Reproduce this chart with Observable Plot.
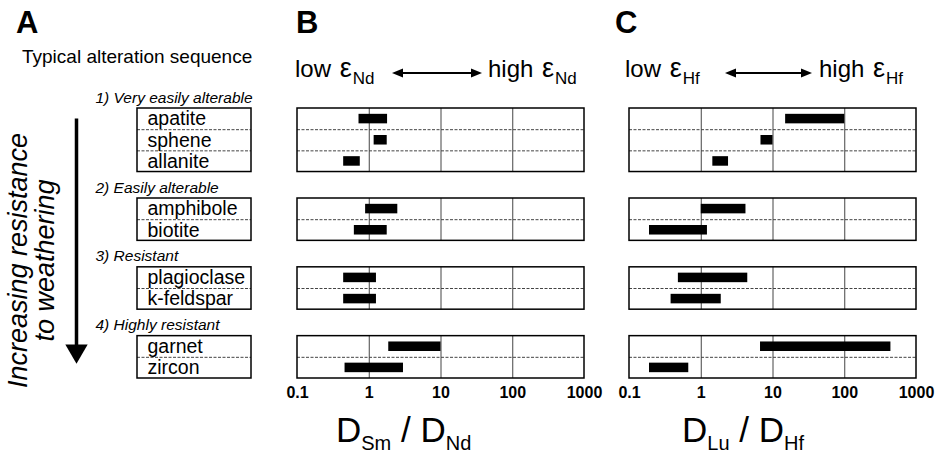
<!DOCTYPE html>
<html><head><meta charset="utf-8">
<script src="https://cdn.jsdelivr.net/npm/d3@7"></script>
<script src="https://cdn.jsdelivr.net/npm/@observablehq/plot@0.6"></script>
<style>
body{margin:0;background:#fff;font-family:"Liberation Sans",Arial,sans-serif;}
#wrap{position:relative;width:935px;height:453px;overflow:hidden;background:#fff}
.t{position:absolute;white-space:nowrap;color:#000;line-height:1}
#wrap > svg{position:absolute;top:0}
.sub{position:relative}
.eps{font-size:27px;margin-left:2px;margin-right:1px}
</style></head><body><div id="wrap"></div>
<script>
// ---- data ----
const groups = ["1) Very easily alterable", "2) Easily alterable", "3) Resistant", "4) Highly resistant"];
const minerals = ["apatite", "sphene", "allanite", "amphibole", "biotite", "plagioclase", "k-feldspar", "garnet", "zircon"];
const mineralGroup = [0, 0, 0, 1, 1, 2, 2, 3, 3];
const smNdLow  = [0.72, 1.17, 0.44, 0.89, 0.62, 0.44, 0.44, 1.87, 0.46];
const smNdHigh = [1.8, 1.78, 0.75, 2.5, 1.78, 1.26, 1.26, 10, 3.0];
const luHfLow  = [15, 6.8, 1.45, 1.0, 0.19, 0.48, 0.38, 6.7, 0.19];
const luHfHigh = [100, 10, 2.4, 4.2, 1.22, 4.45, 1.9, 440, 0.67];
const xTicks = [0.1, 1, 10, 100, 1000];
const xTickLabels = ["0.1", "1", "10", "100", "1000"];
const sideLabel = "Increasing resistance\nto weathering";

// ---- layout derived from group structure ----
const GAP = 1.25;
let pos = 0;
const rowY = [];
const boxes = [];
groups.forEach((g, gi) => {
  const idx = minerals.map((m, i) => i).filter(i => mineralGroup[i] === gi);
  const top = pos;
  idx.forEach(i => { rowY[i] = pos + 0.5; pos += 1; });
  boxes.push({group: g, top, bottom: pos, n: idx.length});
  pos += GAP;
});
const yMax = pos - GAP;
const seps = boxes.flatMap(b => d3.range(1, b.n).map(k => ({y: b.top + k})));
const font = "Liberation Sans, Arial, sans-serif";
const wrap = document.getElementById("wrap");

function place(el, left) { el.style.left = left + "px"; wrap.appendChild(el); }

function panel(lo, hi, width, ml, mr, left) {
  const data = minerals.map((m, i) => ({m, lo: lo[i], hi: hi[i], y: rowY[i]}));
  const grid = boxes.flatMap(b => xTicks.slice(1, -1).map(t => ({x: t, y1: b.top, y2: b.bottom})));
  const p = Plot.plot({
    width, height: 453, marginLeft: ml, marginRight: mr, marginTop: 108, marginBottom: 75,
    style: {background: "transparent", overflow: "visible", fontFamily: font},
    x: {type: "log", domain: [xTicks[0], xTicks[xTicks.length - 1]]},
    y: {domain: [0, yMax], reverse: true, axis: null},
    marks: [
      Plot.ruleY(seps, {y: "y", stroke: "#444", strokeWidth: 1, strokeDasharray: "3,1.5"}),
      Plot.ruleX(grid, {x: "x", y1: "y1", y2: "y2", stroke: "#444", strokeWidth: 1}),
      Plot.rect(data, {x1: "lo", x2: "hi", y1: d => d.y - 0.225, y2: d => d.y + 0.225, fill: "#000"}),
      Plot.rect(boxes, {x1: xTicks[0], x2: xTicks[xTicks.length - 1], y1: "top", y2: "bottom", stroke: "#000", strokeWidth: 1.5, fill: "none"}),
      Plot.axisX(xTicks, {tickSize: 0, tickPadding: 8, tickFormat: d => xTickLabels[xTicks.indexOf(d)], fontSize: 16, fontWeight: "bold", fill: "#000", label: null})
    ]
  });
  place(p, left);
}

// left panel
{
  const data = minerals.map((m, i) => ({m, y: rowY[i]}));
  const last = minerals.length - 1;
  const p = Plot.plot({
    width: 280, height: 453, marginLeft: 137, marginRight: 29, marginTop: 108, marginBottom: 75,
    style: {background: "transparent", overflow: "visible", fontFamily: font},
    x: {domain: [0, 1], axis: null},
    y: {domain: [0, yMax], reverse: true, axis: null},
    marks: [
      Plot.ruleY(seps, {y: "y", stroke: "#444", strokeWidth: 1, strokeDasharray: "3,1.5"}),
      Plot.rect(boxes, {x1: 0, x2: 1, y1: "top", y2: "bottom", stroke: "#000", strokeWidth: 1.5, fill: "none"}),
      Plot.text(data, {x: 0, y: "y", text: "m", dx: 10, textAnchor: "start", fontSize: 19.5, fill: "#000"}),
      Plot.text(boxes, {x: 0, y: "top", text: "group", dx: -42, dy: -6, textAnchor: "start", lineAnchor: "bottom", fontSize: 15.5, fontStyle: "italic", fill: "#000"}),
      Plot.ruleX([0], {x: d => d, y1: rowY[0], y2: rowY[last - 1], dx: -61, stroke: "#000", strokeWidth: 3.5}),
      Plot.dot([0], {x: d => d, y: rowY[last], dx: -61, dy: -17, symbol: "triangle", rotate: 180, r: 8.3, fill: "#000", stroke: "none"}),
      Plot.text([sideLabel], {x: 0, y: yMax / 2, text: d => d, dx: -106, dy: 17, rotate: -90, fontSize: 27, fontStyle: "italic", lineHeight: 1.02, fill: "#000"})
    ]
  });
  place(p, 0);
}

panel(smNdLow, smNdHigh, 327, 20, 20, 277);
panel(luHfLow, luHfHigh, 326, 20, 19, 609);

// header texts
function txt(html, left, baseline, fs, extra) {
  const d = document.createElement("div");
  d.className = "t";
  d.innerHTML = html;
  d.style.fontSize = fs + "px";
  d.style.top = (baseline - 0.8465 * fs) + "px";
  if (extra) Object.assign(d.style, extra);
  place(d, left);
}
const eps = '<span class="eps">ε</span>';
const sub = (s, fs, off) => `<span class="sub" style="font-size:${fs}px;top:${off}px">${s}</span>`;
txt("A", 16, 33, 31, {fontWeight: "bold"});
txt("B", 296, 33, 31, {fontWeight: "bold"});
txt("C", 615, 33, 31, {fontWeight: "bold"});
txt("Typical alteration sequence", 22, 63, 19);
txt("low " + eps + sub("Nd", 17, 7), 295, 75, 24);
txt("high " + eps + sub("Nd", 17, 7), 488, 75, 24);
txt("low " + eps + sub("Hf", 17, 7), 625, 75, 24);
txt("high " + eps + sub("Hf", 17, 7), 819, 75, 24);
txt("D" + sub("Sm", 20, 8) + " / D" + sub("Nd", 20, 8), 336, 442, 35);
txt("D" + sub("Lu", 20, 8) + " / D" + sub("Hf", 20, 8), 682, 442, 35);

// header double arrows
const ns = "http://www.w3.org/2000/svg";
const svg = document.createElementNS(ns, "svg");
svg.setAttribute("width", 935); svg.setAttribute("height", 453);
svg.style.position = "absolute"; svg.style.left = "0"; svg.style.top = "0"; svg.style.pointerEvents = "none";
[[392, 482], [725, 812]].forEach(([a, b]) => {
  const y = 73;
  const l = document.createElementNS(ns, "line");
  l.setAttribute("x1", a + 8); l.setAttribute("x2", b - 8); l.setAttribute("y1", y); l.setAttribute("y2", y);
  l.setAttribute("stroke", "#000"); l.setAttribute("stroke-width", 2);
  svg.appendChild(l);
  [[a, 1], [b, -1]].forEach(([x, s]) => {
    const pth = document.createElementNS(ns, "path");
    pth.setAttribute("d", `M${x},${y}L${x + s * 11},${y - 4.5}L${x + s * 11},${y + 4.5}Z`);
    pth.setAttribute("fill", "#000");
    svg.appendChild(pth);
  });
});
wrap.appendChild(svg);
</script></body></html>
